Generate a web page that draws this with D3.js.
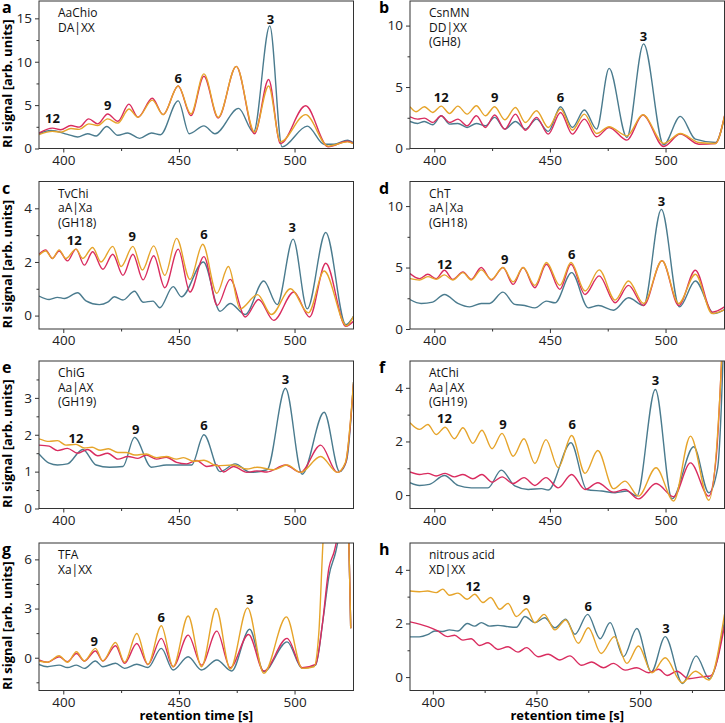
<!DOCTYPE html>
<html><head><meta charset="utf-8">
<script src="https://cdn.jsdelivr.net/npm/d3@7"></script>
<style>body{margin:0;background:#fff} text{font-family:"Open Sans",sans-serif}</style>
</head><body><svg id="c" width="725" height="723"></svg>
<script>
// ---------- data (retention time [s], RI signal) ----------
const aTeal = [[389.5,1.70],[394.6,2.08],[401.8,1.63],[406.2,1.33],[410.5,1.70],[414.2,1.44],[418.8,2.54],[423.6,1.52],[427.9,1.78],[433.0,1.17],[438.1,1.78],[442.0,1.59],[449.7,5.49],[454.5,1.70],[460.8,2.61],[465.6,1.70],[475.8,4.62],[482.3,1.89],[489.3,14.13],[494.6,0.19],[505.5,2.58],[512.8,0.49],[517.1,0.49],[522.9,0.95],[525.5,0.64]];
const aRed = [[389.5,1.78],[395.3,2.35],[398.9,2.16],[403.3,2.65],[406.9,2.46],[411.0,3.41],[414.9,2.84],[419.2,3.98],[423.6,3.14],[428.4,5.11],[432.3,3.60],[438.5,5.80],[443.2,3.90],[449.7,7.20],[455.2,3.79],[460.8,8.33],[467.0,3.52],[474.8,9.47],[482.7,1.70],[488.8,7.95],[493.9,0.57],[504.8,4.92],[514.5,0.20],[522.9,0.83],[525.5,0.57]];
const aOrange = [[389.5,1.59],[395.3,1.97],[398.9,1.89],[403.3,2.30],[406.9,2.20],[411.0,2.84],[414.9,2.65],[419.2,3.41],[423.6,2.92],[428.4,4.55],[432.3,3.60],[438.5,5.57],[443.2,3.90],[449.7,7.20],[455.2,3.98],[460.8,8.60],[467.0,3.60],[474.8,9.47],[482.7,1.89],[488.8,7.20],[493.9,0.76],[504.8,3.90],[514.5,0.27],[522.9,0.76],[525.5,0.57]];

const bTeal = [[389.5,2.20],[392.8,2.04],[395.7,2.20],[399.3,1.93],[403.0,2.66],[406.6,1.98],[410.2,2.04],[414.2,1.71],[418.2,2.04],[422.1,1.85],[426.1,2.53],[430.5,1.58],[435.1,2.20],[439.4,1.58],[444.2,2.39],[449.3,1.39],[454.6,3.40],[459.7,1.71],[464.9,3.13],[470.2,1.58],[475.6,6.52],[483.3,0.90],[490.5,8.51],[499.2,0.30],[506.4,2.61],[512.9,0.76],[521.6,0.49],[525.5,2.53]];
const bRed = [[389.5,2.58],[392.8,2.39],[395.7,2.47],[399.3,2.12],[403.0,2.66],[406.6,2.12],[410.2,2.39],[414.2,1.85],[418.2,2.66],[422.1,1.71],[426.1,2.72],[430.5,1.58],[435.1,2.80],[439.4,1.49],[444.2,2.53],[449.3,1.17],[454.6,2.93],[459.7,1.17],[464.9,2.39],[470.2,0.95],[475.6,1.71],[483.3,0.68],[490.2,2.72],[499.2,0.16],[506.4,1.17],[514.4,0.35],[521.6,0.41],[525.5,2.66]];
const bOrange = [[389.5,3.40],[392.1,2.99],[395.7,3.40],[399.3,2.93],[403.0,3.45],[406.6,2.85],[410.2,3.45],[414.2,2.80],[418.2,3.48],[422.1,2.66],[426.1,3.40],[430.5,2.34],[435.1,3.34],[439.4,2.12],[444.2,3.07],[449.3,1.71],[454.6,3.21],[459.7,1.49],[464.9,2.80],[470.2,1.22],[475.6,1.77],[483.3,1.03],[490.2,2.74],[499.2,0.41],[506.4,1.22],[514.4,0.49],[521.6,0.41],[525.5,2.66]];

const cTeal = [[389.5,0.73],[393.9,0.60],[397.5,0.68],[400.5,0.64],[406.2,0.85],[409.8,0.55],[415.6,0.41],[419.2,0.50],[422.1,0.70],[425.8,0.58],[430.8,0.91],[434.5,0.50],[438.8,0.54],[441.7,0.29],[447.5,1.08],[451.1,0.70],[460.6,2.00],[467.8,0.16],[472.2,0.45],[478.7,0.04],[486.7,1.29],[492.5,0.41],[499.4,2.85],[505.5,0.25],[513.5,3.10],[522.2,-0.34],[525.5,-0.03]];
const cRed = [[389.5,2.29],[392.4,2.45],[395.3,2.13],[398.2,2.41],[401.8,2.04],[405.5,2.48],[409.1,1.88],[412.7,2.38],[417.1,1.73],[421.4,2.29],[425.8,1.50],[430.1,2.29],[434.5,1.33],[439.1,2.23],[443.9,1.04],[449.7,2.48],[454.8,0.88],[460.8,2.20],[466.6,0.38],[472.2,1.35],[478.7,-0.05],[484.5,0.60],[491.0,-0.18],[499.7,0.88],[506.5,-0.05],[513.5,1.95],[522.2,-0.40],[525.5,-0.21]];
const cOrange = [[389.5,2.25],[392.4,2.41],[395.3,2.13],[398.2,2.45],[401.1,2.13],[405.5,2.48],[408.4,2.13],[412.7,2.54],[416.3,2.00],[421.4,2.58],[425.0,1.83],[430.1,2.58],[434.2,1.70],[439.1,2.60],[443.9,1.50],[449.0,2.88],[454.8,1.35],[460.3,2.66],[466.4,0.83],[471.4,1.83],[476.5,0.25],[484.0,0.78],[490.0,0.04],[498.3,1.00],[506.0,0.10],[512.8,1.66],[522.5,-0.38],[525.5,-0.03]];

const dTeal = [[389.5,2.40],[394.3,2.08],[399.3,2.19],[404.4,2.81],[410.2,2.08],[415.3,1.80],[420.3,2.08],[423.9,2.08],[429.7,3.00],[434.8,2.00],[439.1,1.91],[443.5,1.72],[448.5,2.27],[452.2,2.13],[459.4,4.59],[466.6,1.72],[471.0,1.91],[477.5,1.53],[484.0,2.54],[490.5,1.91],[498.2,9.73],[506.0,1.80],[512.9,3.91],[520.9,1.26],[525.5,1.58]];
const dRed = [[389.5,4.51],[393.6,4.10],[397.2,4.45],[400.8,4.10],[404.4,4.78],[408.0,4.04],[412.4,4.64],[416.0,4.04],[420.3,5.00],[424.7,3.99],[429.7,5.00],[434.1,3.63],[438.4,5.00],[443.5,3.36],[448.5,5.27],[454.3,3.22],[459.1,5.27],[465.2,2.81],[471.3,4.32],[478.2,2.13],[484.0,3.55],[490.5,1.91],[498.5,5.55],[505.7,1.91],[512.9,4.78],[520.2,1.37],[525.5,1.80]];
const dOrange = [[389.5,4.10],[393.6,3.99],[397.2,4.26],[400.8,4.04],[404.4,4.40],[408.0,3.99],[412.4,4.59],[416.0,3.99],[420.3,4.81],[424.7,4.04],[429.7,5.00],[434.1,3.83],[438.4,5.00],[443.5,3.55],[448.5,5.41],[454.3,3.55],[459.1,5.41],[465.2,3.09],[471.3,4.81],[478.2,2.35],[484.0,3.91],[490.5,2.08],[498.5,5.55],[505.7,2.08],[512.9,4.45],[520.2,1.26],[525.5,1.58]];

const eTeal = [[389.5,1.48],[393.9,1.23],[397.5,1.18],[401.8,1.21],[408.4,1.60],[414.2,1.18],[420.0,1.12],[425.8,1.14],[430.8,1.93],[438.1,1.12],[444.6,1.18],[455.5,1.18],[460.8,2.00],[467.8,1.00],[474.3,1.21],[480.9,0.98],[488.1,1.05],[496.1,3.26],[503.3,0.93],[512.8,2.61],[519.5,1.00],[522.5,1.30],[525.5,3.43]];
const eRed = [[389.5,1.72],[393.9,1.69],[397.5,1.57],[401.8,1.63],[406.2,1.50],[410.5,1.60],[414.9,1.43],[419.2,1.50],[423.6,1.34],[427.9,1.41],[432.3,1.36],[435.9,1.45],[440.3,1.34],[444.6,1.39],[449.0,1.25],[453.3,1.21],[457.7,1.30],[462.0,1.14],[466.4,1.18],[469.3,0.99],[473.6,1.14],[479.4,0.98],[483.8,1.02],[488.1,0.99],[496.1,1.18],[502.6,0.98],[511.3,1.72],[518.5,0.98],[522.0,1.22],[525.5,3.38]];
const eOrange = [[389.5,1.89],[393.9,1.82],[397.5,1.84],[401.1,1.72],[405.5,1.74],[409.0,1.64],[412.5,1.66],[416.0,1.58],[419.5,1.62],[423.6,1.52],[427.2,1.52],[431.0,1.45],[435.9,1.48],[440.3,1.38],[444.6,1.41],[449.0,1.34],[452.0,1.38],[456.2,1.28],[460.8,1.31],[466.4,1.16],[473.6,1.18],[479.4,1.07],[483.8,1.12],[491.0,1.05],[496.8,1.18],[502.6,0.98],[511.3,1.41],[518.5,0.98],[522.0,1.25],[525.5,3.43]];

const fTeal = [[389.5,0.46],[393.6,0.36],[397.9,0.40],[404.4,0.73],[410.2,0.36],[416.0,0.27],[423.2,0.27],[429.0,0.93],[434.8,0.34],[440.6,0.21],[446.4,0.24],[449.3,0.19],[459.1,1.95],[465.9,0.21],[472.4,0.15],[478.2,0.09],[483.3,0.15],[487.6,-0.04],[495.6,3.94],[502.8,-0.14],[512.2,1.80],[518.7,0.09],[522.5,1.00],[525.0,5.50],[525.5,7.00]];
const fRed = [[389.5,0.86],[393.6,0.77],[397.2,0.81],[400.8,0.71],[404.7,0.81],[408.7,0.68],[412.4,0.77],[416.7,0.61],[420.6,0.77],[425.0,0.48],[429.3,0.68],[434.1,0.43],[438.8,0.65],[443.5,0.36],[448.3,0.65],[453.6,0.27],[459.4,0.77],[465.2,0.21],[470.7,0.46],[477.5,0.11],[482.5,0.21],[488.3,-0.14],[495.9,0.43],[503.5,-0.06],[510.8,1.20],[518.7,-0.04],[522.0,1.50],[524.5,5.50],[525.5,7.50]];
const fOrange = [[389.5,2.70],[393.6,2.45],[397.2,2.63],[400.8,2.26],[404.7,2.53],[408.7,2.10],[412.4,2.51],[416.7,1.93],[420.6,2.42],[425.0,1.73],[429.3,2.30],[434.1,1.45],[438.8,2.10],[443.5,1.18],[448.3,2.07],[453.6,1.02],[459.4,2.22],[465.2,0.81],[470.7,1.66],[477.5,0.24],[482.5,0.52],[488.3,-0.04],[495.9,1.02],[503.5,-0.22],[510.8,2.20],[518.7,-0.19],[523.8,4.19],[525.5,7.50]];

const gTeal = [[389.5,-0.41],[393.1,-0.55],[398.2,-0.45],[401.8,-0.60],[405.7,-0.45],[409.1,-0.65],[413.9,-0.20],[417.1,-0.55],[422.6,-0.34],[426.5,-0.65],[431.8,-0.40],[436.6,-0.60],[442.4,0.57],[447.5,-0.75],[454.0,0.06],[459.8,-0.75],[466.4,-0.14],[472.8,-0.81],[480.6,1.74],[486.7,-0.85],[496.8,0.97],[503.3,-0.65],[509.1,-0.45],[512.5,2.50],[514.9,5.00],[517.8,6.45],[520.0,8.00],[522.5,10.0],[524.3,1.80]];
const gRed = [[389.5,-0.14],[393.1,-0.28],[398.2,0.06],[401.8,-0.24],[405.7,0.26],[409.1,-0.20],[413.9,0.41],[417.1,-0.20],[422.6,0.73],[426.5,-0.34],[431.8,0.87],[436.6,-0.41],[442.4,1.18],[447.5,-0.55],[454.0,1.38],[459.8,-0.45],[466.4,1.62],[472.2,-0.61],[480.1,1.42],[486.7,-0.81],[496.8,1.18],[503.3,-0.61],[509.1,-0.41],[512.0,2.00],[514.9,5.50],[517.1,6.45],[519.5,8.00],[522.5,10.0],[524.3,1.80]];
const gOrange = [[389.5,-0.20],[393.1,-0.28],[398.2,0.12],[401.8,-0.28],[405.7,0.36],[409.1,-0.20],[413.9,0.57],[417.1,-0.20],[422.6,0.93],[426.5,-0.28],[431.8,1.48],[436.6,-0.41],[442.4,1.95],[447.5,-0.55],[454.0,2.55],[459.8,-0.55],[466.1,3.00],[472.2,-0.69],[479.7,3.04],[486.7,-0.95],[496.5,2.49],[503.3,-0.65],[508.4,-0.55],[510.5,1.50],[512.5,7.50],[515.0,10.0],[522.5,10.0],[524.3,1.80]];

const hTeal = [[389.0,1.50],[393.5,1.50],[397.5,1.58],[401.0,1.72],[404.8,1.70],[408.0,1.76],[412.1,1.72],[416.6,2.00],[420.2,1.90],[423.4,2.03],[427.4,1.90],[431.4,1.93],[436.3,1.88],[440.3,1.86],[444.4,2.26],[449.2,2.03],[454.0,2.21],[458.9,1.84],[464.1,2.16],[468.6,1.60],[474.7,2.34],[480.7,1.43],[485.5,2.03],[492.0,0.76],[498.4,1.81],[505.4,0.19],[512.1,1.51],[520.5,-0.24],[527.0,0.79],[533.4,-0.06],[540.7,2.09]];
const hRed = [[389.0,2.06],[397.5,1.88],[402.4,1.72],[407.2,1.51],[410.5,1.56],[414.5,1.38],[418.5,1.43],[422.6,1.18],[426.6,1.28],[431.4,1.03],[436.3,1.13],[441.1,0.93],[445.2,1.10],[450.8,0.76],[455.7,0.85],[461.3,0.64],[466.1,0.79],[471.8,0.44],[476.6,0.56],[482.3,0.35],[487.1,0.51],[492.8,0.26],[498.4,0.35],[504.1,0.16],[508.9,0.29],[513.0,0.06],[517.8,0.22],[523.4,-0.06],[529.9,0.01],[533.9,0.04],[540.7,1.91]];
const hOrange = [[389.0,3.21],[393.5,3.18],[397.5,3.21],[401.6,3.15],[404.8,3.28],[408.0,3.05],[412.1,3.13],[416.6,2.90],[420.2,3.09],[424.2,2.78],[427.9,2.97],[432.3,2.53],[436.3,2.75],[440.3,2.26],[445.2,2.55],[449.2,2.03],[453.7,2.34],[458.9,1.76],[464.1,2.13],[470.2,1.26],[475.0,1.84],[481.2,0.88],[487.6,1.51],[493.6,0.51],[499.2,1.16],[505.7,0.16],[512.1,0.72],[520.2,-0.21],[526.7,0.22],[533.1,-0.11],[540.7,2.34]];

// ---------- panel metadata ----------
const panelLetters = ["a","b","c","d","e","f","g","h"];
const panelNames = [["AaChio","DA|XX"],["CsnMN","DD|XX","(GH8)"],["TvChi","aA|Xa","(GH18)"],["ChT","aA|Xa","(GH18)"],["ChiG","Aa|AX","(GH19)"],["AtChi","Aa|AX","(GH19)"],["TFA","Xa|XX"],["nitrous acid","XD|XX"]];
const tealSeries = [aTeal,bTeal,cTeal,dTeal,eTeal,fTeal,gTeal,hTeal];
const redSeries = [aRed,bRed,cRed,dRed,eRed,fRed,gRed,hRed];
const orangeSeries = [aOrange,bOrange,cOrange,dOrange,eOrange,fOrange,gOrange,hOrange];
const xDomains = [[389.5,525.5],[389.5,525.5],[389.5,525.5],[389.5,525.5],[389.5,525.5],[389.5,525.5],[389.5,525.5],[389,540.7]];
const yDomains = [[0,17],[0,12],[-0.5,5],[0,12],[0,4],[-0.5,5],[-2,7],[-0.5,5]];
const yTickVals = [[0,5,10,15],[0,5,10],[0,2,4],[0,5,10],[0,1,2,3],[0,2,4],[0,3,6],[0,2,4]];
const yMinorVals = [[2.5,7.5,12.5],[2.5,7.5],[1,3],[2.5,7.5],[0.5,1.5,2.5,3.5],[1,3],[-1.5,1.5,4.5],[1,3]];
const xTickVals = [400,450,500];
const xMinorVals = [425,475];
const xMinorValsH = [425,475,525];
// DP labels: [text, retention time, signal]
const dpLabels = [
  [["12",395.3,2.9],["9",419.2,4.4],["6",449.7,7.6],["3",489.6,14.4]],
  [["12",403.0,3.75],["9",426.1,3.75],["6",454.6,3.75],["3",490.5,8.72]],
  [["12",404.7,2.63],["9",429.8,2.79],["6",460.8,2.85],["3",499.0,3.1]],
  [["12",404.4,4.92],["9",430.5,5.27],["6",459.4,5.68],["3",498.2,10.0]],
  [["12",405.5,1.78],["9",431.3,2.02],["6",460.8,2.14],["3",496.1,3.38]],
  [["12",404.4,2.68],["9",429.7,2.45],["6",459.7,2.45],["3",495.6,4.09]],
  [["9",413.4,0.73],["6",442.4,2.19],["3",480.6,3.30]],
  [["12",419.3,3.21],["9",445.2,2.72],["6",475.0,2.47],["3",512.5,1.66]]
];
const colors = {teal:"#4a7b8e", red:"#d92c5f", orange:"#e6a42a"};
const yLabel = "RI signal [arb. units]";
const xLabel = "retention time [s]";

// ---------- drawing ----------
const svg = d3.select("#c");
const defs = svg.append("defs");
const colX = [39, 410], plotW = 314.5;
const rowY = [1, 181.5, 361, 543], plotH = 147.5;

panelLetters.forEach((L, i) => {
  const col = i % 2, row = Math.floor(i / 2);
  const g = svg.append("g").attr("transform", `translate(${colX[col]},${rowY[row]})`);
  const x = d3.scaleLinear().domain(xDomains[i]).range([0, plotW]);
  const y = d3.scaleLinear().domain(yDomains[i]).range([plotH, 0]);

  defs.append("clipPath").attr("id", "clip" + i)
    .append("rect").attr("width", plotW).attr("height", plotH);

  const line = d3.line().x(d => x(d[0])).y(d => y(d[1])).curve(d3.curveMonotoneX);
  const lg = g.append("g").attr("clip-path", `url(#clip${i})`);
  [[tealSeries[i], colors.teal], [redSeries[i], colors.red], [orangeSeries[i], colors.orange]].forEach(([s, c]) => {
    lg.append("path").datum(s).attr("d", line).attr("fill", "none")
      .attr("stroke", c).attr("stroke-width", 1.4).attr("stroke-linejoin", "round");
  });

  // axes
  g.append("g").attr("transform", `translate(0,${plotH})`)
    .call(d3.axisBottom(x).tickValues(xTickVals).tickSize(4).tickPadding(2.5).tickFormat(d3.format("d")));
  g.append("g").attr("transform", `translate(0,${plotH})`)
    .call(d3.axisBottom(x).tickValues(i === 7 ? xMinorValsH : xMinorVals).tickSize(2.5).tickFormat(""));
  g.append("g")
    .call(d3.axisLeft(y).tickValues(yTickVals[i]).tickSize(4).tickPadding(3).tickFormat(d3.format("d")));
  g.append("g").call(d3.axisLeft(y).tickValues(yMinorVals[i]).tickSize(2.5).tickFormat(""));
  g.selectAll(".domain").remove();
  g.selectAll(".tick line").attr("stroke", "#333");
  g.selectAll(".tick text").attr("fill", "#222").style("font-size", "13.5px").style("font-family", "'Open Sans',sans-serif");

  // frame
  g.append("rect").attr("width", plotW).attr("height", plotH)
    .attr("fill", "none").attr("stroke", "#333").attr("stroke-width", 1);

  // panel name lines
  panelNames[i].forEach((t, k) => {
    g.append("text").attr("x", 19).attr("y", 16 + k * 14.5)
      .attr("fill", "#111").style("font-size", "12px").text(t);
  });

  // DP labels
  dpLabels[i].forEach(([t, rx, ry]) => {
    g.append("text").attr("x", x(rx)).attr("y", y(ry)).attr("text-anchor", "middle")
      .attr("fill", "#111").style("font-size", "13px").style("font-weight", "bold").text(t);
  });

  // panel letter
  svg.append("text").attr("x", col === 0 ? 2 : 379).attr("y", rowY[row] + 12)
    .attr("fill", "#000").style("font-size", "16px").style("font-weight", "bold").text(L);

  // y label (left column only)
  if (col === 0) {
    svg.append("text")
      .attr("transform", `translate(12,${rowY[row] + plotH / 2 + 9}) rotate(-90)`)
      .attr("text-anchor", "middle").attr("fill", "#000")
      .style("font-size", "13px").style("font-weight", "bold").text(yLabel);
  }
  // x label (bottom row only)
  if (row === 3) {
    svg.append("text").attr("x", colX[col] + plotW / 2).attr("y", 720)
      .attr("text-anchor", "middle").attr("fill", "#000")
      .style("font-size", "13px").style("font-weight", "bold").text(xLabel);
  }
});
</script></body></html>
